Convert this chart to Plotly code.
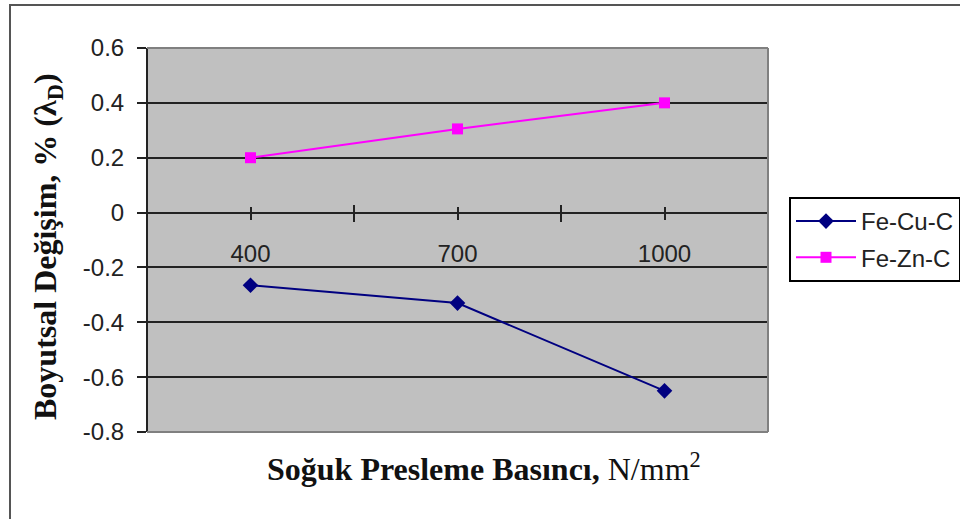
import plotly.graph_objects as go

# ---- data ----
categories = ["400", "700", "1000"]
fe_cu_c = [-0.265, -0.33, -0.65]
fe_zn_c = [0.20, 0.305, 0.40]
y_ticks = [-0.8, -0.6, -0.4, -0.2, 0, 0.2, 0.4, 0.6]
y_tick_labels = ["-0.8", "-0.6", "-0.4", "-0.2", "0", "0.2", "0.4", "0.6"]

xpos = list(range(len(categories)))
boundaries = [i - 0.5 for i in range(len(categories) + 1)]
y_min, y_max = -0.8, 0.6
zero_pos = (0 - y_min) / (y_max - y_min)

W, H = 960, 519
L, R, T, B = 147, 192, 48, 87
pw, ph = W - L - R, H - T - B


def px_x(p):
    return (p - L) / pw


def px_y(p):
    return (H - B - p) / ph


fig = go.Figure()
fig.add_trace(go.Scatter(
    x=xpos, y=fe_cu_c, name="Fe-Cu-C", mode="lines+markers",
    line=dict(color="#000080", width=2),
    marker=dict(symbol="diamond", size=12, color="#000080"),
    legendgroup="a",
))
fig.add_trace(go.Scatter(
    x=xpos, y=fe_zn_c, name="Fe-Zn-C", mode="lines+markers",
    line=dict(color="#FF00FF", width=2),
    marker=dict(symbol="square", size=11, color="#FF00FF"),
    legendgroup="b",
))
# empty trace to activate the overlay axis (inside ticks)
fig.add_trace(go.Scatter(x=[], y=[], xaxis="x2", showlegend=False, hoverinfo="skip"))

tick_font = dict(family="Liberation Sans, Arial", size=24, color="#222222")

fig.update_layout(
    width=W, height=H,
    margin=dict(l=L, r=R, t=T, b=B, autoexpand=False),
    paper_bgcolor="white",
    plot_bgcolor="#C0C0C0",
    showlegend=True,
    legend=dict(
        x=px_x(789), y=px_y(197), xanchor="left", yanchor="top",
        bgcolor="white", bordercolor="#000000", borderwidth=2,
        font=tick_font, tracegroupgap=2, itemwidth=60,
    ),
    xaxis=dict(
        range=[boundaries[0], boundaries[-1]],
        anchor="free", position=zero_pos,
        tickvals=xpos, ticktext=categories,
        ticks="outside", ticklen=6, tickwidth=2, tickcolor="#222222",
        minor=dict(tickvals=boundaries, ticks="outside", ticklen=8,
                   tickwidth=2, tickcolor="#222222"),
        showline=True, linecolor="#222222", linewidth=2,
        showgrid=False, zeroline=False,
        tickfont=tick_font, ticklabelstandoff=14,
    ),
    xaxis2=dict(
        range=[boundaries[0], boundaries[-1]],
        overlaying="x", matches="x",
        anchor="free", position=zero_pos,
        tickvals=xpos, ticks="inside", ticklen=6, tickwidth=2, tickcolor="#222222",
        minor=dict(tickvals=boundaries, ticks="inside", ticklen=8,
                   tickwidth=2, tickcolor="#222222"),
        showticklabels=False, showline=False, showgrid=False, zeroline=False,
    ),
    yaxis=dict(
        range=[y_min, y_max],
        anchor="free", position=0,
        tickvals=y_ticks, ticktext=y_tick_labels,
        ticks="outside", ticklen=9, tickwidth=2, tickcolor="#222222",
        showline=True, linecolor="#222222", linewidth=2,
        showgrid=True, gridcolor="#222222", gridwidth=2,
        zeroline=False,
        tickfont=tick_font, ticklabelstandoff=8,
    ),
    shapes=[
        # plot-area gray border (top, right, bottom)
        dict(type="line", xref="paper", yref="paper", x0=0, x1=1, y0=1, y1=1,
             line=dict(color="#808080", width=2), layer="above"),
        dict(type="line", xref="paper", yref="paper", x0=1, x1=1, y0=0, y1=1,
             line=dict(color="#808080", width=2), layer="above"),
        dict(type="line", xref="paper", yref="paper", x0=0, x1=1, y0=0, y1=0,
             line=dict(color="#808080", width=2), layer="above"),
        # outer chart frame
        dict(type="rect", xref="paper", yref="paper",
             x0=px_x(10), x1=px_x(980), y0=px_y(540), y1=px_y(5),
             line=dict(color="#555555", width=2), fillcolor="rgba(0,0,0,0)",
             layer="above"),
    ],
    annotations=[
        dict(text="<b>Soğuk Presleme Basıncı,</b> N/mm<sup>2</sup>",
             xref="paper", yref="paper", x=px_x(484), y=px_y(467),
             xanchor="center", yanchor="middle", showarrow=False,
             font=dict(family="Liberation Serif, Times New Roman", size=32, color="#111111")),
        dict(text="<b>Boyutsal Değişim, % (λ<sub>D</sub>)</b>",
             xref="paper", yref="paper", x=px_x(47), y=px_y(247),
             xanchor="center", yanchor="middle", showarrow=False, textangle=-90,
             font=dict(family="Liberation Serif, Times New Roman", size=32, color="#111111")),
    ],
)

fig.write_html("out.html")
